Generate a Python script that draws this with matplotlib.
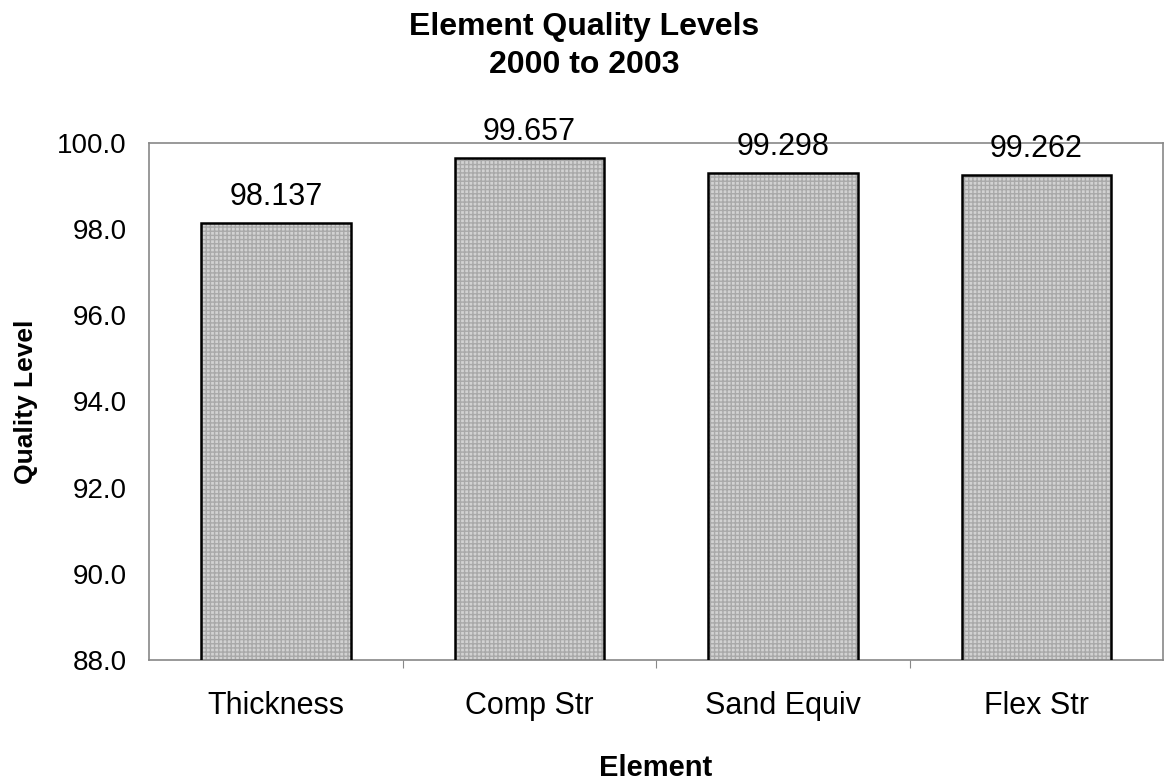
import matplotlib.pyplot as plt
import numpy as np

plt.rcParams["font.family"] = ["Liberation Sans", "DejaVu Sans"]

elements = ["Thickness", "Comp Str", "Sand Equiv", "Flex Str"]
quality = [98.137, 99.657, 99.298, 99.262]
value_labels = ["98.137", "99.657", "99.298", "99.262"]
y_ticks = [88.0, 90.0, 92.0, 94.0, 96.0, 98.0, 100.0]
title_lines = ["Element Quality Levels", "2000 to 2003"]

fig = plt.figure(figsize=(11.69, 7.84), dpi=100)
ax = fig.add_axes([0.1275, 0.1582, 0.8674, 0.6594])

x = np.arange(len(elements))
# textured fill first, then a black outline on top
ax.bar(
    x,
    quality,
    width=0.59,
    color="#d2d2d2",
    edgecolor="#a9a9a9",
    hatch="++++",
    linewidth=0,
    zorder=2,
)
bars = ax.bar(
    x,
    quality,
    width=0.59,
    fill=False,
    edgecolor="black",
    linewidth=1.8,
    zorder=3,
)
for bar, label in zip(bars, value_labels):
    ax.annotate(
        label,
        xy=(bar.get_x() + bar.get_width() / 2, bar.get_height()),
        xytext=(0, 8),
        textcoords="offset points",
        ha="center",
        va="bottom",
        fontsize=22,
    )

ax.set_xlim(-0.5, len(elements) - 0.5)
ax.set_ylim(88.0, 100.0)
ax.set_yticks(y_ticks, labels=[f"{t:.1f}" for t in y_ticks], fontsize=20)
ax.set_xticks(x, labels=elements, fontsize=22)
ax.set_xticks(x[:-1] + 0.5, minor=True)
ax.tick_params(axis="both", which="major", length=0)
ax.tick_params(axis="x", which="minor", length=6, width=0.8, color="#888888")
ax.tick_params(axis="y", pad=16)
ax.tick_params(axis="x", which="major", pad=22)

for spine in ax.spines.values():
    spine.set_color("#888888")
    spine.set_linewidth(1.2)
    spine.set_linestyle((0, (1, 1)))

ax.set_ylabel("Quality Level", fontsize=19, fontweight="bold")
ax.yaxis.set_label_coords(-0.11, 0.5)
ax.set_xlabel("Element", fontsize=21, fontweight="bold", va="center")
ax.xaxis.set_label_coords(0.5, -0.209)

fig.text(0.5, 0.966, title_lines[0], ha="center", va="center",
         fontsize=23, fontweight="bold")
fig.text(0.5, 0.917, title_lines[1], ha="center", va="center",
         fontsize=23, fontweight="bold")

fig.savefig("out.png", dpi=100)
